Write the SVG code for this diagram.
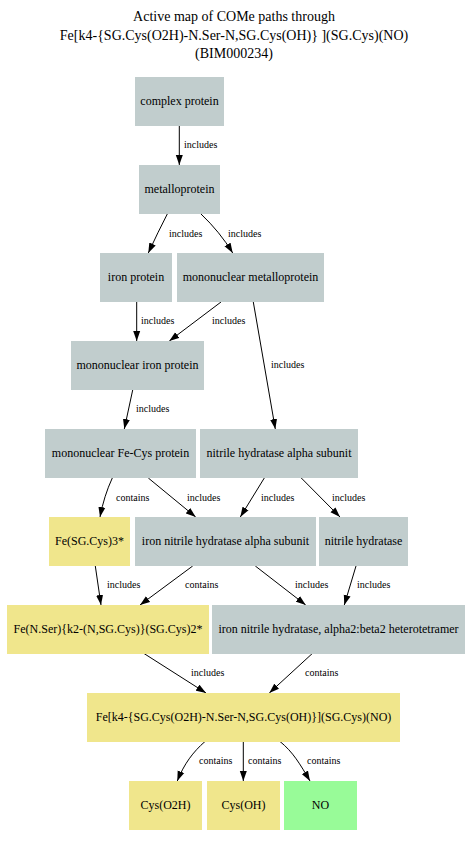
<svg xmlns="http://www.w3.org/2000/svg" width="468" height="846" viewBox="0 0 468 846">
<style>
.n rect{stroke:none}
.g rect{fill:#c1cdcd}
.y rect{fill:#f0e68c}
.p rect{fill:#98fb98}
.n text{font-family:"Liberation Serif","Times New Roman",serif;font-size:12px;text-anchor:middle;fill:#000}
.t{font-family:"Liberation Serif","Times New Roman",serif;font-size:14px;text-anchor:middle;fill:#000}
#edges path{fill:none;stroke:#000;stroke-width:1;marker-end:url(#ah)}
#edges text{font-family:"Liberation Serif","Times New Roman",serif;font-size:10px;fill:#000}
</style>
<defs>
<marker id="ah" markerUnits="userSpaceOnUse" markerWidth="10" markerHeight="8" refX="10" refY="3.5" orient="auto" viewBox="0 0 10 7">
<path d="M0,0 L10,3.5 L0,7 z" fill="#000"/>
</marker>
</defs>
<rect width="468" height="846" fill="#fff"/>
<g id="title">
<text class="t" x="234" y="21">Active map of COMe paths through</text>
<text class="t" x="234" y="40">Fe[k4-{SG.Cys(O2H)-N.Ser-N,SG.Cys(OH)} ](SG.Cys)(NO)</text>
<text class="t" x="234" y="58">(BIM000234)</text>
</g>
<g id="edges">
<path d="M179.3,126 L179.3,165"/><text x="184" y="148">includes</text>
<path d="M167.3,214 Q158,232 148.3,253"/><text x="169" y="237">includes</text>
<path d="M201,214 Q220,232 232.7,253"/><text x="228" y="237">includes</text>
<path d="M136.7,302 L136.7,341"/><text x="141" y="324">includes</text>
<path d="M221,302 L169.3,341"/><text x="212" y="324">includes</text>
<path d="M253.3,302 L275.3,429"/><text x="271" y="368">includes</text>
<path d="M132.7,390 L124.3,429"/><text x="136" y="412">includes</text>
<path d="M112.3,478 Q104,496 100,517"/><text x="116" y="501">contains</text>
<path d="M148.3,478 L195.7,517"/><text x="187" y="501">includes</text>
<path d="M264.3,478 L240.3,517"/><text x="261" y="501">includes</text>
<path d="M301.3,478 L340,517"/><text x="332" y="501">includes</text>
<path d="M95.3,566 L101,605"/><text x="107" y="588">includes</text>
<path d="M192.7,566 L140,605"/><text x="185" y="588">contains</text>
<path d="M255.3,566 L305.7,605"/><text x="295" y="588">includes</text>
<path d="M356,566 L344.3,605"/><text x="357" y="588">includes</text>
<path d="M144,653.5 L206,693"/><text x="191" y="676">includes</text>
<path d="M312.3,653.5 L269.3,693"/><text x="305" y="676">contains</text>
<path d="M205,741.5 C193,752 184,764 177.3,781"/><text x="199" y="764">contains</text>
<path d="M243.3,741.5 L243.3,781"/><text x="248" y="764">contains</text>
<path d="M280,741.5 C293,752 300,764 310,781"/><text x="307" y="764">contains</text>
</g>
<g id="n1" class="n g"><rect x="135" y="77" width="89" height="49"/><text x="179.5" y="105">complex protein</text></g>
<g id="n2" class="n g"><rect x="139" y="165" width="81" height="49"/><text x="179.5" y="193">metalloprotein</text></g>
<g id="n3" class="n g"><rect x="100" y="253" width="72" height="49"/><text x="136" y="281">iron protein</text></g>
<g id="n4" class="n g"><rect x="177" y="253" width="147" height="49"/><text x="250.5" y="281">mononuclear metalloprotein</text></g>
<g id="n5" class="n g"><rect x="71" y="341" width="133" height="49"/><text x="137.5" y="369">mononuclear iron protein</text></g>
<g id="n6" class="n g"><rect x="45" y="429" width="151" height="49"/><text x="120.5" y="457">mononuclear Fe-Cys protein</text></g>
<g id="n7" class="n g"><rect x="200" y="429" width="158" height="49"/><text x="279" y="457">nitrile hydratase alpha subunit</text></g>
<g id="n8" class="n y"><rect x="49" y="517" width="81" height="49"/><text x="89.5" y="545">Fe(SG.Cys)3*</text></g>
<g id="n9" class="n g"><rect x="135" y="517" width="181" height="49"/><text x="225.5" y="545">iron nitrile hydratase alpha subunit</text></g>
<g id="n10" class="n g"><rect x="319" y="517" width="89" height="49"/><text x="363.5" y="545">nitrile hydratase</text></g>
<g id="n11" class="n y"><rect x="7" y="605" width="202" height="49"/><text x="108" y="633">Fe(N.Ser){k2-(N,SG.Cys)}(SG.Cys)2*</text></g>
<g id="n12" class="n g"><rect x="212" y="605" width="253" height="49"/><text x="338.5" y="633">iron nitrile hydratase, alpha2:beta2 heterotetramer</text></g>
<g id="n13" class="n y"><rect x="87" y="693" width="313" height="49"/><text x="243.5" y="721">Fe[k4-{SG.Cys(O2H)-N.Ser-N,SG.Cys(OH)}](SG.Cys)(NO)</text></g>
<g id="n14" class="n y"><rect x="129" y="781" width="73" height="49"/><text x="165.5" y="809">Cys(O2H)</text></g>
<g id="n15" class="n y"><rect x="207" y="781" width="73" height="49"/><text x="243.5" y="809">Cys(OH)</text></g>
<g id="n16" class="n p"><rect x="284" y="781" width="73" height="49"/><text x="320.5" y="809">NO</text></g>
</svg>
